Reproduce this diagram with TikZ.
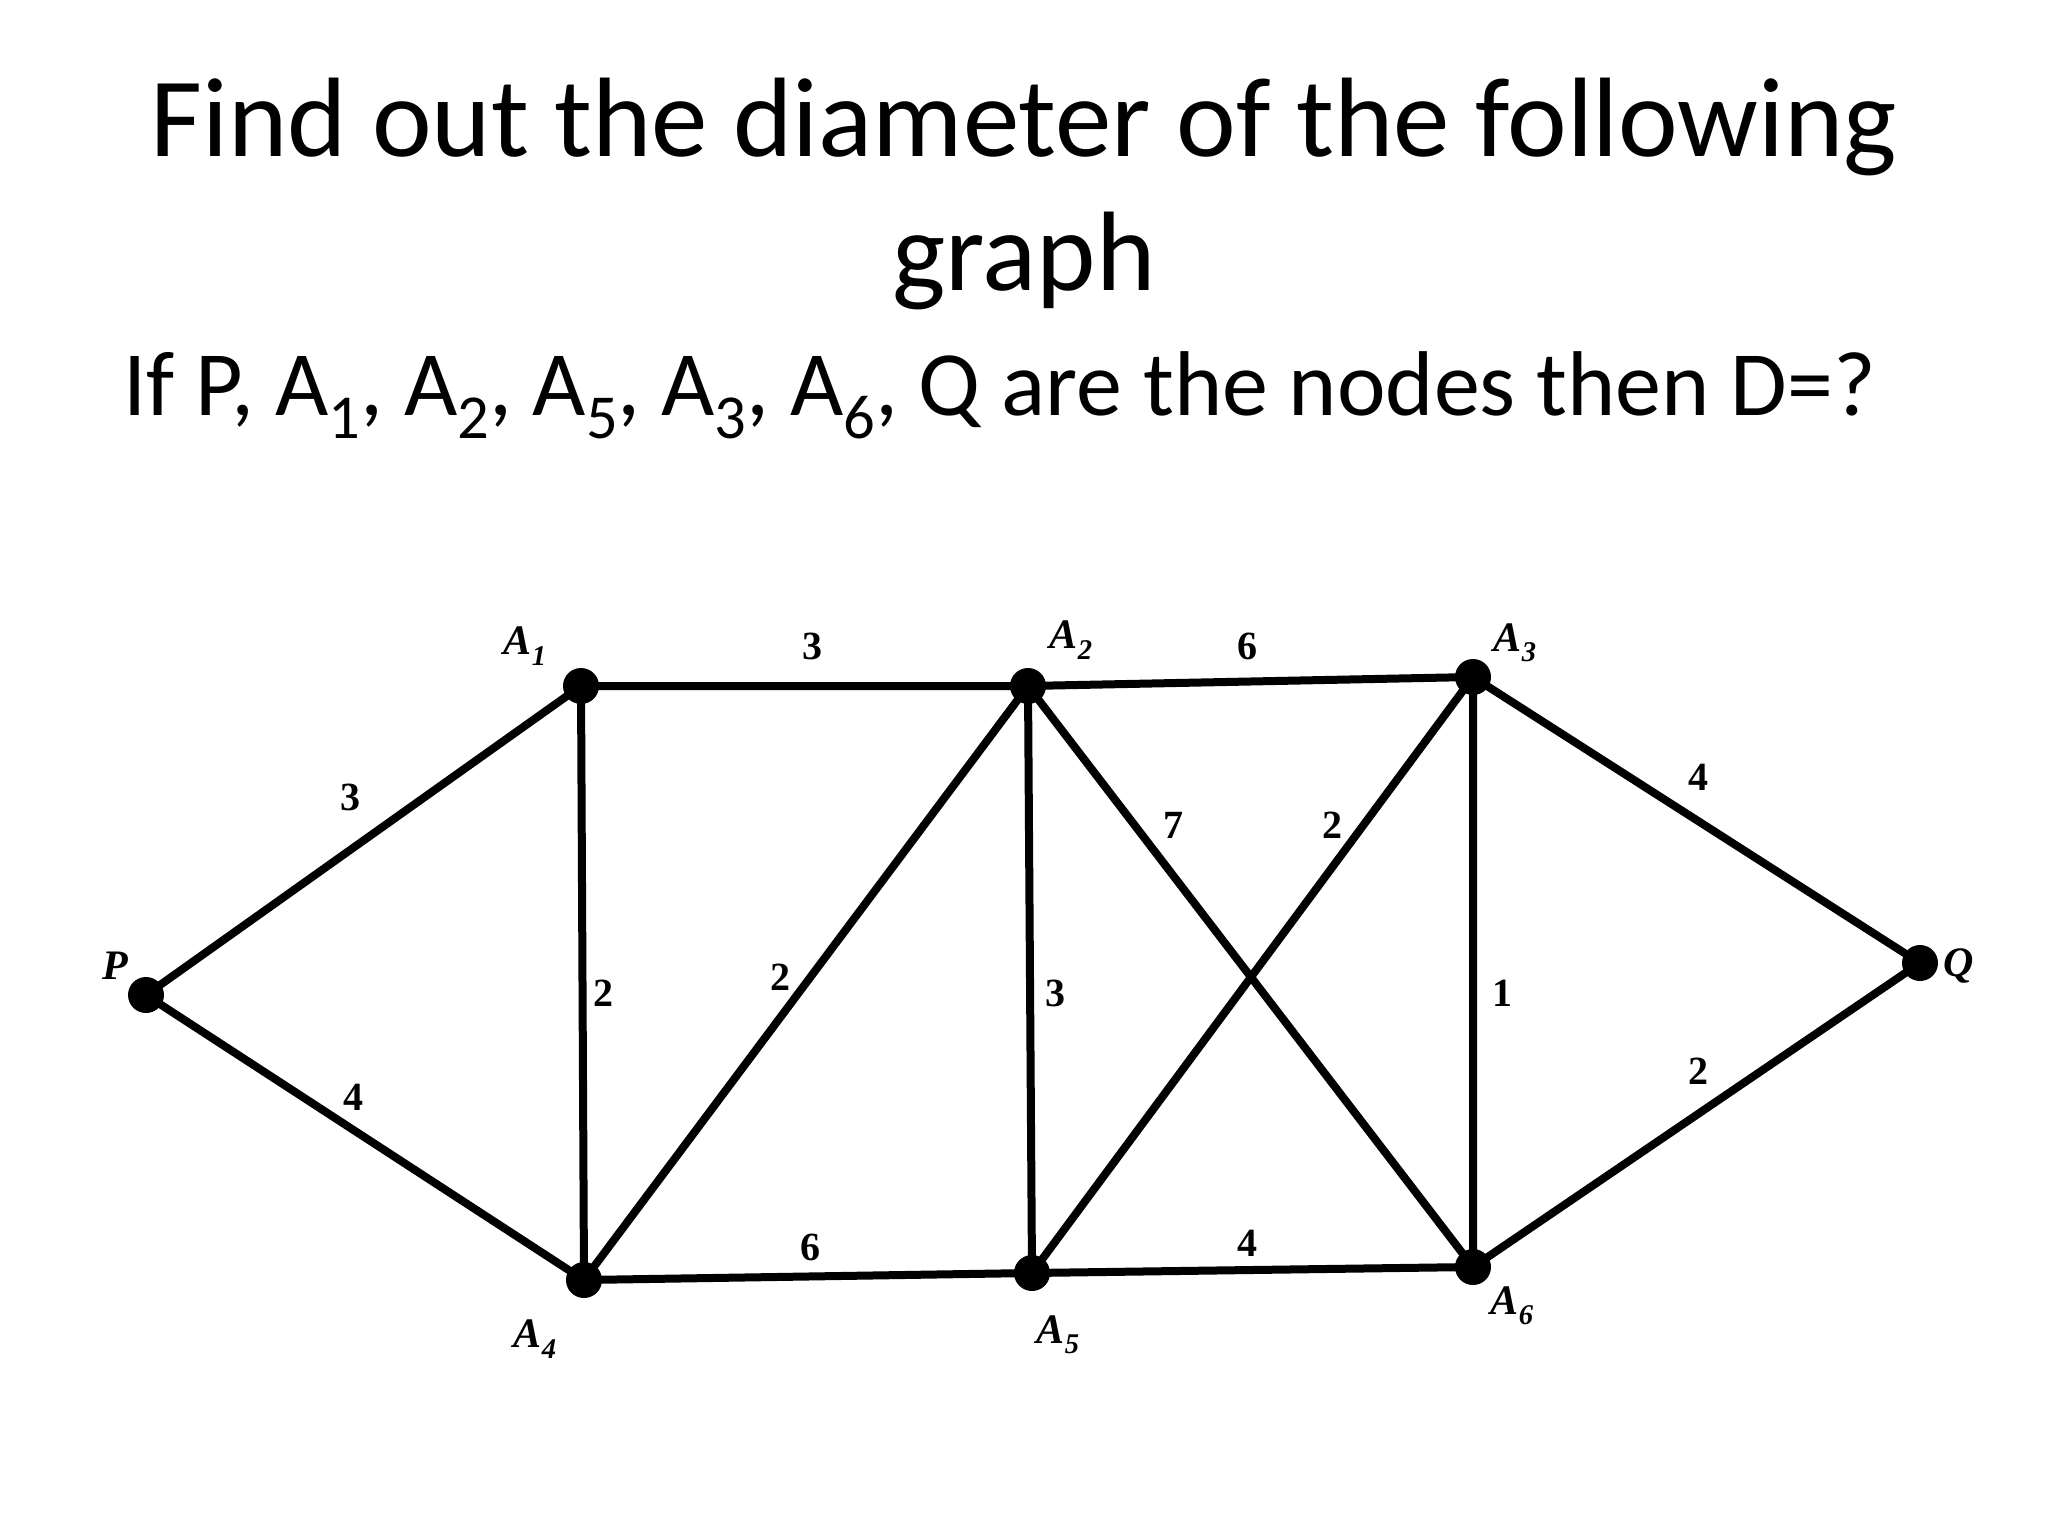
\documentclass[tikz,border=0pt]{standalone}
\usepackage{fontspec}
\setmainfont{Carlito}
\newfontfamily\lblfont{Liberation Serif}
\newcommand{\subs}[1]{\raisebox{-0.25em}{\scalebox{0.68}{#1}}}
\begin{document}
\begin{tikzpicture}[x=1pt,y=-1pt,
  vtx/.style={circle,fill=black,inner sep=0pt,minimum size=36pt},
  edge/.style={line width=8pt},
  wlbl/.style={font=\lblfont\bfseries\fontsize{40}{40}\selectfont},
  nlbl/.style={font=\lblfont\bfseries\itshape\fontsize{42}{42}\selectfont}]
\useasboundingbox (0,0) rectangle (2048,1536);
\node at (1024,127) {\fontsize{113}{120}\selectfont Find out the diameter of the following};
\node at (1024,261) {\fontsize{113}{120}\selectfont graph};
\node[anchor=west] at (120,395) {\fontsize{92}{98}\selectfont If P, A\subs{1}, A\subs{2}, A\subs{5}, A\subs{3}, A\subs{6}, Q are the nodes then D=?};
\node[vtx] (P) at (146,995) {};
\node[vtx] (A1) at (581,686) {};
\node[vtx] (A2) at (1028,686) {};
\node[vtx] (A3) at (1473,677) {};
\node[vtx] (Q) at (1920,963) {};
\node[vtx] (A4) at (584,1280) {};
\node[vtx] (A5) at (1032,1273) {};
\node[vtx] (A6) at (1473,1267) {};
\draw[edge] (P.center)--(A1.center) (P.center)--(A4.center) (A1.center)--(A2.center) (A1.center)--(A4.center)
 (A2.center)--(A4.center) (A4.center)--(A5.center) (A2.center)--(A3.center) (A2.center)--(A5.center)
 (A2.center)--(A6.center) (A5.center)--(A3.center) (A5.center)--(A6.center) (A3.center)--(A6.center)
 (A3.center)--(Q.center) (A6.center)--(Q.center);
\node[wlbl] (w1) at (350,797) {3};
\node[wlbl] (w2) at (353,1097) {4};
\node[wlbl] (w3) at (812,646) {3};
\node[wlbl] (w4) at (603,993) {2};
\node[wlbl] (w5) at (780,977) {2};
\node[wlbl] (w6) at (810,1247) {6};
\node[wlbl] (w7) at (1247,646) {6};
\node[wlbl] (w8) at (1055,993) {3};
\node[wlbl] (w9) at (1173,825) {7};
\node[wlbl] (w10) at (1332,825) {2};
\node[wlbl] (w11) at (1247,1243) {4};
\node[wlbl] (w12) at (1502,993) {1};
\node[wlbl] (w13) at (1698,777) {4};
\node[wlbl] (w14) at (1698,1071) {2};
\node[nlbl] (lP) at (115,966) {P};
\node[nlbl] (l1) at (525,646) {A\subs{1}};
\node[nlbl] (l2) at (1071,640) {A\subs{2}};
\node[nlbl] (l3) at (1515,643) {A\subs{3}};
\node[nlbl] (lQ) at (1959,966) {Q};
\node[nlbl] (l4) at (535,1339) {A\subs{4}};
\node[nlbl] (l5) at (1058,1335) {A\subs{5}};
\node[nlbl] (l6) at (1512,1306) {A\subs{6}};
\end{tikzpicture}
\end{document}
